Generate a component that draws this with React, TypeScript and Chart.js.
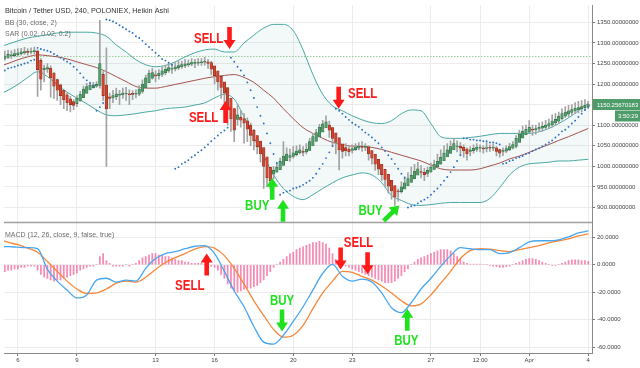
import React, { useEffect, useRef } from 'react';
import { Chart, registerables } from 'chart.js';

Chart.register(...registerables);

// ---------- DATA ----------
// Heikin Ashi 4h candles (days of March; 32 = Apr 1)
const candleStartDay = 5 + 8 / 24;
const candleStepDays = 4 / 24;
const firstOpen = 1262;
const closes = [
  1268, 1272, 1270, 1274, 1276, 1278,
  1279, 1277, 1280, 1281, 1235, 1212,
  1238, 1240, 1215, 1195, 1185, 1172,
  1162, 1155, 1150, 1148, 1165, 1175,
  1188, 1194, 1197, 1198, 1199, 1250,
  1172, 1140, 1165, 1172, 1176, 1174,
  1178, 1177, 1174, 1175, 1176, 1188,
  1200, 1215, 1226, 1228, 1220, 1226,
  1232, 1236, 1240, 1238, 1242, 1245,
  1247, 1249, 1250, 1252, 1251, 1253,
  1254, 1255, 1250, 1236, 1220, 1205,
  1192, 1178, 1140, 1115, 1088, 1125,
  1112, 1105, 1090, 1075, 1062, 1048,
  1030, 1000, 972, 965, 990, 998,
  1012, 1025, 1030, 1026, 1033, 1037,
  1040, 1034, 1042, 1060, 1072, 1082,
  1095, 1103, 1108, 1088, 1068, 1058,
  1040, 1036, 1038, 1035, 1043, 1047,
  1049, 1046, 1048, 1030, 1020, 1005,
  993, 980, 968, 952, 940, 925,
  938, 950, 960, 970, 978, 988,
  994, 985, 980, 990, 998, 1005,
  1012, 1022, 1032, 1040, 1048, 1055,
  1050, 1044, 1038, 1030, 1040, 1044,
  1047, 1045, 1042, 1045, 1044, 1046,
  1036, 1032, 1038, 1043, 1048, 1053,
  1068, 1078, 1085, 1090, 1095, 1088,
  1092, 1095, 1097, 1100, 1104, 1110,
  1114, 1122, 1128, 1132, 1135, 1138,
  1141, 1143, 1145, 1148, 1150.26,
];
const highs = [
  1280, 1282, 1281, 1284, 1286, 1287,
  1289, 1286, 1288, 1290, 1284, 1262,
  1246, 1250, 1244, 1228, 1212, 1200,
  1185, 1178, 1170, 1162, 1172, 1182,
  1195, 1202, 1205, 1204, 1206, 1355,
  1230, 1288, 1178, 1185, 1190, 1185,
  1190, 1192, 1186, 1184, 1186, 1196,
  1210, 1222, 1234, 1238, 1232, 1235,
  1242, 1246, 1250, 1248, 1252, 1256,
  1256, 1260, 1258, 1262, 1260, 1262,
  1262, 1265, 1260, 1255, 1240, 1225,
  1212, 1200, 1185, 1160, 1140, 1150,
  1135, 1128, 1118, 1105, 1090, 1075,
  1055, 1040, 1010, 995, 1000, 1008,
  1020, 1060, 1045, 1042, 1048, 1050,
  1052, 1048, 1055, 1068, 1080, 1090,
  1102, 1112, 1123, 1110, 1095, 1080,
  1068, 1052, 1055, 1048, 1052, 1055,
  1058, 1060, 1055, 1050, 1038, 1025,
  1008, 995, 985, 970, 958, 945,
  945, 962, 975, 985, 998, 1005,
  1010, 1002, 995, 998, 1008, 1015,
  1030, 1040, 1050, 1055, 1062, 1068,
  1062, 1058, 1052, 1045, 1048, 1052,
  1055, 1052, 1050, 1058, 1052, 1054,
  1048, 1042, 1045, 1050, 1056, 1060,
  1075, 1088, 1098, 1100, 1111, 1100,
  1100, 1106, 1108, 1112, 1115, 1125,
  1128, 1132, 1140, 1145, 1148, 1150,
  1155, 1158, 1160, 1162, 1158,
];
const lows = [
  1258, 1262, 1262, 1266, 1268, 1270,
  1272, 1270, 1273, 1274, 1170, 1185,
  1205, 1228, 1168, 1165, 1160, 1150,
  1140, 1135, 1132, 1138, 1145, 1158,
  1168, 1180, 1188, 1190, 1192, 1190,
  1160, 1000, 1140, 1155, 1162, 1150,
  1165, 1160, 1150, 1162, 1166, 1172,
  1178, 1195, 1208, 1212, 1205, 1212,
  1218, 1222, 1228, 1226, 1232, 1235,
  1238, 1240, 1242, 1244, 1240, 1245,
  1245, 1246, 1238, 1222, 1200, 1185,
  1165, 1150, 1100, 1085, 1060, 1100,
  1095, 1056, 1060, 1050, 1040, 1030,
  1010, 946, 950, 945, 970, 985,
  995, 1005, 1015, 1012, 1020, 1025,
  1030, 1025, 1030, 1038, 1055, 1065,
  1080, 1090, 1095, 1070, 1050, 1030,
  991, 1020, 1025, 1025, 1032, 1038,
  1040, 1036, 1038, 1015, 1005, 990,
  980, 965, 950, 935, 920, 905,
  915, 935, 948, 955, 965, 975,
  980, 972, 965, 975, 985, 992,
  998, 1005, 1015, 1028, 1035, 1042,
  1035, 1028, 1022, 1015, 1025, 1032,
  1036, 1035, 1032, 1035, 1036, 1038,
  1025, 1022, 1026, 1033, 1038, 1042,
  1045, 1060, 1072, 1078, 1082, 1075,
  1078, 1085, 1085, 1090, 1092, 1095,
  1100, 1105, 1112, 1118, 1120, 1125,
  1128, 1130, 1132, 1136, 1140,
];
// Parabolic SAR (one dot per candle)
const sarValues = [
  1233, 1238, 1240, 1242, 1245, 1247, 1250, 1252, 1257, 1259,
  1288, 1285, 1283, 1281, 1278, 1273, 1269, 1264, 1259, 1254, 1250, 1242, 1235, 1226, 1216, 1209, 1202, 1195,
  1135, 1144, 1154,
  1357, 1355, 1352, 1348, 1343, 1338, 1333, 1328, 1324, 1316, 1312, 1305, 1297, 1290, 1283, 1276, 1269, 1261, 1257, 1252, 1247,
  994, 998, 1006, 1010, 1015, 1022, 1027, 1034, 1039, 1046, 1053, 1061, 1068, 1075, 1082, 1087, 1094,
  1264, 1254, 1242, 1233, 1221, 1204, 1185, 1166, 1144, 1123, 1104, 1080, 1056, 1030, 1008,
  931, 936, 939, 941, 946, 948, 951, 955, 960, 965, 972, 982, 994, 1006, 1020, 1034, 1049,
  1140, 1135, 1128, 1120, 1113, 1106, 1101, 1096, 1089, 1082, 1077, 1070, 1063, 1056, 1046, 1037, 1027, 1018, 1006, 994, 982, 972,
  900, 903, 905, 910, 915, 919, 924, 931, 939, 946, 955, 965, 974, 986, 998, 1013, 1027,
  1068, 1068, 1065, 1065, 1063, 1063, 1061, 1061, 1058, 1058, 1056, 1053,
  1006, 1008, 1013, 1015, 1020, 1022, 1025, 1030, 1032, 1037, 1041, 1044, 1049, 1053, 1058, 1063, 1070, 1077, 1085, 1089, 1096, 1104, 1111, 1120, 1128, 1137, 1144,
];
// MACD histogram (one bar per candle)
const macdHist = [
  -5, -4, -4, -3, -3, -2, -2, -1, -1, -1,
  -4, -7, -9, -10, -11, -12, -11, -11, -10, -9, -8, -7, -6, -4, -3, -2,
  -1, -1, 0, 6, 8,
  3, 1, -1, -1, -1, -1, 0, -1, 0, 1,
  3, 5, 6, 7, 8, 8, 7, 7, 6, 6,
  5, 4, 3, 3, 2, 2, 1, 1, 1, 1,
  0, 0, -1, -2,
  -4, -7, -10, -14, -17, -19, -20, -19, -18, -17, -17, -16, -15, -13, -11, -8,
  -5, -2, 0,
  2, 4, 6, 8, 9, 11, 12, 13, 14, 15, 16, 16, 17, 16, 15,
  12, 8, 4, 0, -1, -1, -2, -3, -4, -5, -6, -7, -8, -9, -10, -11, -12, -13, -13, -13, -12, -10, -8, -5, -3,
  0, 2, 4, 5, 6, 7, 8, 9, 10, 11, 11, 11, 10, 8, 6, 4, 2, 1,
  0.5, 0.5, 0.5, 0.5, 0, 0, -0.5, -1, -1.5, -2, -2, -1.5, -1, 0,
  1, 2, 3, 4, 4.5, 4.5, 4, 3, 2, 1, 0, -0.5, -0.5, 0, 1, 2, 3, 3.5, 3.5, 3.5, 3, 3, 2.5,
];
// Smooth indicator lines, sampled every half day from Mar 5
const lineStartDay = 5;
const lineStepDays = 0.5;
const bbUpper = [
  1290, 1297, 1305, 1312, 1316, 1320, 1324, 1326, 1326, 1326, 1324, 1316, 1295, 1278, 1259, 1247,
  1242, 1245, 1254, 1266, 1276, 1283, 1285, 1278, 1278, 1300, 1319, 1336, 1345, 1345, 1330, 1283,
  1223, 1175, 1147, 1135, 1123, 1113, 1106, 1104, 1111, 1128, 1137, 1135, 1104, 1072, 1068, 1068,
  1070, 1073, 1077, 1080, 1080, 1080, 1080, 1084, 1092, 1104, 1118, 1135, 1154,
];
const bbMiddle = [
  1242, 1250, 1259, 1266, 1271, 1269, 1266, 1261, 1254, 1247, 1240, 1230, 1218, 1206, 1194, 1190,
  1190, 1194, 1199, 1204, 1209, 1214, 1218, 1221, 1223, 1216, 1204, 1185, 1166, 1140, 1116, 1094,
  1080, 1068, 1058, 1053, 1049, 1049, 1046, 1041, 1034, 1027, 1020, 1013, 1003, 994, 991, 991,
  991, 994, 1001, 1008, 1018, 1025, 1034, 1044, 1053, 1063, 1072, 1082, 1092,
];
const bbLower = [
  1173, 1185, 1199, 1216, 1230, 1218, 1199, 1180, 1166, 1152, 1137, 1125, 1123, 1125, 1128, 1132,
  1135, 1140, 1142, 1144, 1149, 1154, 1166, 1175, 1163, 1120, 1070, 1025, 979, 946, 927, 919,
  931, 946, 960, 972, 979, 984, 979, 960, 929, 917, 907, 905, 907, 910, 912, 912,
  912, 912, 922, 948, 979, 998, 1006, 1008, 1010, 1013, 1013, 1015, 1017,
];
const macdLine = [
  13.1, 13.1, 12.7, 12.4, 11.6, -3.4, -11.9, -18.4, -24.1, -21.9, -11.2, -9.8, -12.6, -11.2, -11.9, -2.6,
  4.5, 8.1, 9.5, 11.6, 13.4, 13.8, 8.1, -4.8, -19.1, -30.5, -44.8, -56.2, -57.6, -51.2, -41.2, -30.5,
  -18.4, -6.2, 0.2, -8.4, -11.9, -10.5, -12.6, -20.5, -31.2, -34.8, -27.6, -17.6, -9.8, -1.2, 6.6, 12.4,
  11.6, 10.9, 10.9, 8.1, 8.8, 12.4, 16.6, 17.4, 17.4, 18.1, 20.2, 23.1, 24.5,
];
const signalLine = [
  18.8, 16.3, 14.5, 12.0, 9.1, 2.4, -4.8, -11.9, -17.6, -20.9, -20.5, -17.6, -13.4, -11.9, -12.6, -9.1,
  -3.4, 1.6, 5.2, 8.1, 11.3, 13.1, 12.0, 6.6, -2.6, -14.1, -26.2, -36.9, -46.9, -52.6, -51.2, -44.1,
  -31.9, -20.5, -11.9, -4.8, -5.5, -8.4, -11.2, -15.5, -20.5, -26.2, -29.8, -28.4, -21.9, -13.4, -4.8, 4.5,
  10.2, 11.6, 11.3, 10.2, 9.5, 10.9, 12.4, 13.8, 15.9, 17.4, 18.8, 20.9, 22.4,
];
const horizontalLevel = 1267;

const xTickDays = [6, 9, 13, 16, 20, 23, 27, 29.5, 32, 35];
const xTickLabels = ['6', '9', '13', '16', '20', '23', '27', '12:00', 'Apr', '4'];
const priceTicks = [900, 950, 1000, 1050, 1100, 1150, 1200, 1250, 1300, 1350];
const macdTicks = [-60, -40, -20, 0, 20];

const titleText = 'Bitcoin / Tether USD, 240, POLONIEX, Heikin Ashi';
const bbText = 'BB (30, close, 2)';
const sarText = 'SAR (0.02, 0.02, 0.2)';
const macdText = 'MACD (12, 26, close, 9, false, true)';
const lastPriceText = '1150.25670183';
const countdownText = '3:50:29';

const signals = [
  { text: 'SELL', side: 'sell', pane: 'yp', labelDay: 15.7, labelValue: 1309, arrows: [{ day: 16.76, value: 1285, dir: 'down' }] },
  { text: 'SELL', side: 'sell', pane: 'yp', labelDay: 15.44, labelValue: 1118, arrows: [{ day: 16.56, value: 1159, dir: 'up' }] },
  { text: 'SELL', side: 'sell', pane: 'yp', labelDay: 23.53, labelValue: 1175, arrows: [{ day: 22.31, value: 1140, dir: 'down' }] },
  { text: 'BUY', side: 'buy', pane: 'yp', labelDay: 18.17, labelValue: 903, arrows: [{ day: 18.93, value: 972, dir: 'up' }, { day: 19.48, value: 919, dir: 'up' }] },
  { text: 'BUY', side: 'buy', pane: 'yp', labelDay: 23.93, labelValue: 891, arrows: [{ day: 25.39, value: 905, dir: 'upright' }] },
  { text: 'SELL', side: 'sell', pane: 'ym', labelDay: 14.74, labelValue: -15.5, arrows: [{ day: 15.6, value: 8.1, dir: 'up' }] },
  { text: 'BUY', side: 'buy', pane: 'ym', labelDay: 19.43, labelValue: -26.2, arrows: [{ day: 19.43, value: -48.4, dir: 'down' }] },
  { text: 'SELL', side: 'sell', pane: 'ym', labelDay: 23.32, labelValue: 15.9, arrows: [{ day: 22.41, value: -3.4, dir: 'down' }, { day: 23.78, value: -6.9, dir: 'down' }] },
  { text: 'BUY', side: 'buy', pane: 'ym', labelDay: 25.75, labelValue: -55.5, arrows: [{ day: 25.8, value: -31.9, dir: 'up' }] },
];

// ---------- LAYOUT / STYLE ----------
const X_MIN = 5.2929;
const X_MAX = 35.192;
const P_MIN = 863.2;
const P_MAX = 1390.66;
const M_MIN = -64.07;
const M_MAX = 30.57;
const FONT = '"Liberation Sans", Arial, sans-serif';
const GREEN = '#559d6c';
const GREEN_BORDER = '#2f6d44';
const RED = '#cf4530';
const RED_BORDER = '#8e2b1c';
const SELL_COLOR = '#ff1a1a';
const BUY_COLOR = '#1fe21f';

function drawArrow(ctx: CanvasRenderingContext2D, x: number, y: number, dir: string, color: string) {
  ctx.save();
  ctx.translate(x, y);
  let angle = 0;
  if (dir === 'up') angle = Math.PI;
  if (dir === 'upright') angle = (-3 * Math.PI) / 4;
  ctx.rotate(angle);
  ctx.fillStyle = color;
  ctx.beginPath();
  ctx.moveTo(0, 0);
  ctx.lineTo(6, -9);
  ctx.lineTo(2.3, -9);
  ctx.lineTo(2.3, -22);
  ctx.lineTo(-2.3, -22);
  ctx.lineTo(-2.3, -9);
  ctx.lineTo(-6, -9);
  ctx.closePath();
  ctx.fill();
  ctx.restore();
}

const overlayPlugin = {
  id: 'overlay',
  afterDatasetsDraw(chart: any) {
    const ctx: CanvasRenderingContext2D = chart.ctx;
    const xs = chart.scales.x;
    const yp = chart.scales.yp;
    const area = chart.chartArea;
    // pane separator
    ctx.save();
    ctx.strokeStyle = '#a0a0a0';
    ctx.lineWidth = 1.5;
    ctx.beginPath();
    ctx.moveTo(area.left, yp.bottom);
    ctx.lineTo(area.right, yp.bottom);
    ctx.stroke();
    ctx.restore();
    // signals
    for (const s of signals) {
      const ys = chart.scales[s.pane];
      const color = s.side === 'sell' ? SELL_COLOR : BUY_COLOR;
      for (const a of s.arrows) {
        drawArrow(ctx, xs.getPixelForValue(a.day), ys.getPixelForValue(a.value), a.dir, color);
      }
      ctx.save();
      ctx.translate(xs.getPixelForValue(s.labelDay), ys.getPixelForValue(s.labelValue));
      ctx.scale(0.82, 1);
      ctx.font = 'bold 14px ' + FONT;
      ctx.fillStyle = color;
      ctx.textAlign = 'center';
      ctx.textBaseline = 'middle';
      ctx.fillText(s.text, 0, 0);
      ctx.restore();
    }
  },
  afterDraw(chart: any) {
    const ctx: CanvasRenderingContext2D = chart.ctx;
    const yp = chart.scales.yp;
    const ym = chart.scales.ym;
    ctx.save();
    ctx.textBaseline = 'middle';
    ctx.textAlign = 'left';
    ctx.font = '7.3px ' + FONT;
    ctx.fillStyle = '#333333';
    ctx.fillText(titleText, 5, 11);
    ctx.font = '7px ' + FONT;
    ctx.fillStyle = '#6c6c6c';
    ctx.fillText(bbText, 5, 23);
    ctx.fillText(sarText, 5, 34);
    ctx.fillText(macdText, 5, ym.top + 12.5);
    // last price badge
    const lastY = yp.getPixelForValue(closes[closes.length - 1]);
    ctx.fillStyle = '#4f9c6b';
    ctx.fillRect(593, lastY - 5.5, 47, 11);
    ctx.fillRect(615, lastY + 6, 25, 11);
    ctx.fillStyle = '#ffffff';
    ctx.font = '6px ' + FONT;
    ctx.fillText(lastPriceText, 597, lastY + 0.5);
    ctx.fillText(countdownText, 618, lastY + 11.5);
    ctx.restore();
  },
};

export default function App() {
  const canvasRef = useRef<HTMLCanvasElement | null>(null);

  useEffect(() => {
    const canvas = canvasRef.current;
    if (!canvas) return;

    const candleDays = closes.map((_, i) => candleStartDay + i * candleStepDays);
    const opens: number[] = [];
    closes.forEach((_, i) => {
      opens.push(i === 0 ? firstOpen : (opens[i - 1] + closes[i - 1]) / 2);
    });
    const isUp = closes.map((c, i) => c >= opens[i]);
    const lineDay = (j: number) => lineStartDay + j * lineStepDays;
    const toLine = (arr: number[]) => arr.map((v, j) => ({ x: lineDay(j), y: v }));

    const tickFont = { size: 6, family: FONT };

    const chart = new Chart(canvas, {
      type: 'bar',
      data: {
        datasets: [
          {
            type: 'line', label: 'BB upper', data: toLine(bbUpper), yAxisID: 'yp',
            borderColor: '#4aa8a2', borderWidth: 1, pointRadius: 0,
            cubicInterpolationMode: 'monotone',
            fill: { target: 2 }, backgroundColor: 'rgba(74,168,162,0.075)', order: 9,
          } as any,
          {
            type: 'line', label: 'BB basis', data: toLine(bbMiddle), yAxisID: 'yp',
            borderColor: '#a4524f', borderWidth: 1, pointRadius: 0,
            cubicInterpolationMode: 'monotone', fill: false, order: 8,
          } as any,
          {
            type: 'line', label: 'BB lower', data: toLine(bbLower), yAxisID: 'yp',
            borderColor: '#4aa8a2', borderWidth: 1, pointRadius: 0,
            cubicInterpolationMode: 'monotone', fill: false, order: 9,
          } as any,
          {
            type: 'line', label: 'level', yAxisID: 'yp',
            data: [{ x: X_MIN, y: horizontalLevel }, { x: X_MAX, y: horizontalLevel }],
            borderColor: '#99cc99', borderWidth: 1, borderDash: [1.5, 1.5], pointRadius: 0, fill: false, order: 10,
          } as any,
          {
            type: 'bar', label: 'wicks', yAxisID: 'yp', grouped: false,
            data: candleDays.map((d, i) => ({ x: d, y: [lows[i], highs[i]] })),
            backgroundColor: '#a3a3a3', barThickness: 1, borderWidth: 0, order: 7,
          } as any,
          {
            type: 'bar', label: 'bodies', yAxisID: 'yp', grouped: false,
            data: candleDays.map((d, i) => ({ x: d, y: [opens[i], closes[i]] })),
            backgroundColor: isUp.map((u) => (u ? GREEN : RED)),
            borderColor: isUp.map((u) => (u ? GREEN_BORDER : RED_BORDER)),
            borderWidth: 0.6, borderSkipped: false, barThickness: 2.6, minBarLength: 1, order: 6,
          } as any,
          {
            type: 'line', label: 'SAR', yAxisID: 'yp', showLine: false,
            data: candleDays.map((d, i) => ({ x: d, y: sarValues[i] })),
            pointRadius: 0.95, pointBorderWidth: 0, pointBackgroundColor: '#2f6fc4', order: 5,
          } as any,
          {
            type: 'bar', label: 'Histogram', yAxisID: 'ym', grouped: false,
            data: candleDays.map((d, i) => ({ x: d, y: macdHist[i] })),
            backgroundColor: 'rgba(244,110,160,0.8)', barThickness: 1.1, borderWidth: 0, order: 4,
          } as any,
          {
            type: 'line', label: 'Signal', yAxisID: 'ym', data: toLine(signalLine),
            borderColor: '#f5883a', borderWidth: 1.3, pointRadius: 0,
            cubicInterpolationMode: 'monotone', fill: false, order: 3,
          } as any,
          {
            type: 'line', label: 'MACD', yAxisID: 'ym', data: toLine(macdLine),
            borderColor: '#48a6f0', borderWidth: 1.3, pointRadius: 0,
            cubicInterpolationMode: 'monotone', fill: false, order: 2,
          } as any,
        ],
      },
      options: {
        responsive: false,
        devicePixelRatio: 1,
        animation: false,
        events: [],
        layout: { padding: 0 },
        plugins: {
          legend: { display: false },
          tooltip: { enabled: false },
          filler: { drawTime: 'beforeDatasetsDraw', propagate: false },
        } as any,
        scales: {
          x: {
            type: 'linear', min: X_MIN, max: X_MAX, offset: false,
            afterBuildTicks: (s: any) => { s.ticks = xTickDays.map((v) => ({ value: v })); },
            afterFit: (s: any) => { s.height = 15; },
            ticks: {
              autoSkip: false, maxRotation: 0, minRotation: 0, padding: 1, color: '#444', font: tickFont,
              callback: (_v: any, i: number) => xTickLabels[i],
            },
            grid: { offset: false, color: '#ececec', lineWidth: 1, tickLength: 3, tickColor: '#777', drawTicks: true },
            border: { display: true, color: '#8a8a8a', width: 1 },
          },
          yp: {
            type: 'linear', position: 'right', stack: 'panes', stackWeight: 220.5, weight: 0,
            min: P_MIN, max: P_MAX,
            afterBuildTicks: (s: any) => { s.ticks = priceTicks.map((v) => ({ value: v })); },
            afterFit: (s: any) => { s.width = 48; },
            ticks: { padding: 2, color: '#444', font: tickFont, callback: (v: any) => Number(v).toFixed(8) },
            grid: { color: '#ececec', lineWidth: 1, tickLength: 3, tickColor: '#777' },
            border: { display: true, color: '#8a8a8a', width: 1 },
          },
          ym: {
            type: 'linear', position: 'right', stack: 'panes', stackWeight: 132.5, weight: 1,
            min: M_MIN, max: M_MAX,
            afterBuildTicks: (s: any) => { s.ticks = macdTicks.map((v) => ({ value: v })); },
            afterFit: (s: any) => { s.width = 48; },
            ticks: { padding: 2, color: '#444', font: tickFont, callback: (v: any) => Number(v).toFixed(4) },
            grid: { color: '#ececec', lineWidth: 1, tickLength: 3, tickColor: '#777' },
            border: { display: true, color: '#8a8a8a', width: 1 },
          },
        } as any,
      },
      plugins: [overlayPlugin],
    } as any);

    return () => chart.destroy();
  }, []);

  return (
    <div style={{ position: 'fixed', left: 0, top: 0, width: 640, height: 368, background: '#ffffff' }}>
      <canvas ref={canvasRef} width={640} height={368} style={{ display: 'block', width: 640, height: 368 }} />
    </div>
  );
}
